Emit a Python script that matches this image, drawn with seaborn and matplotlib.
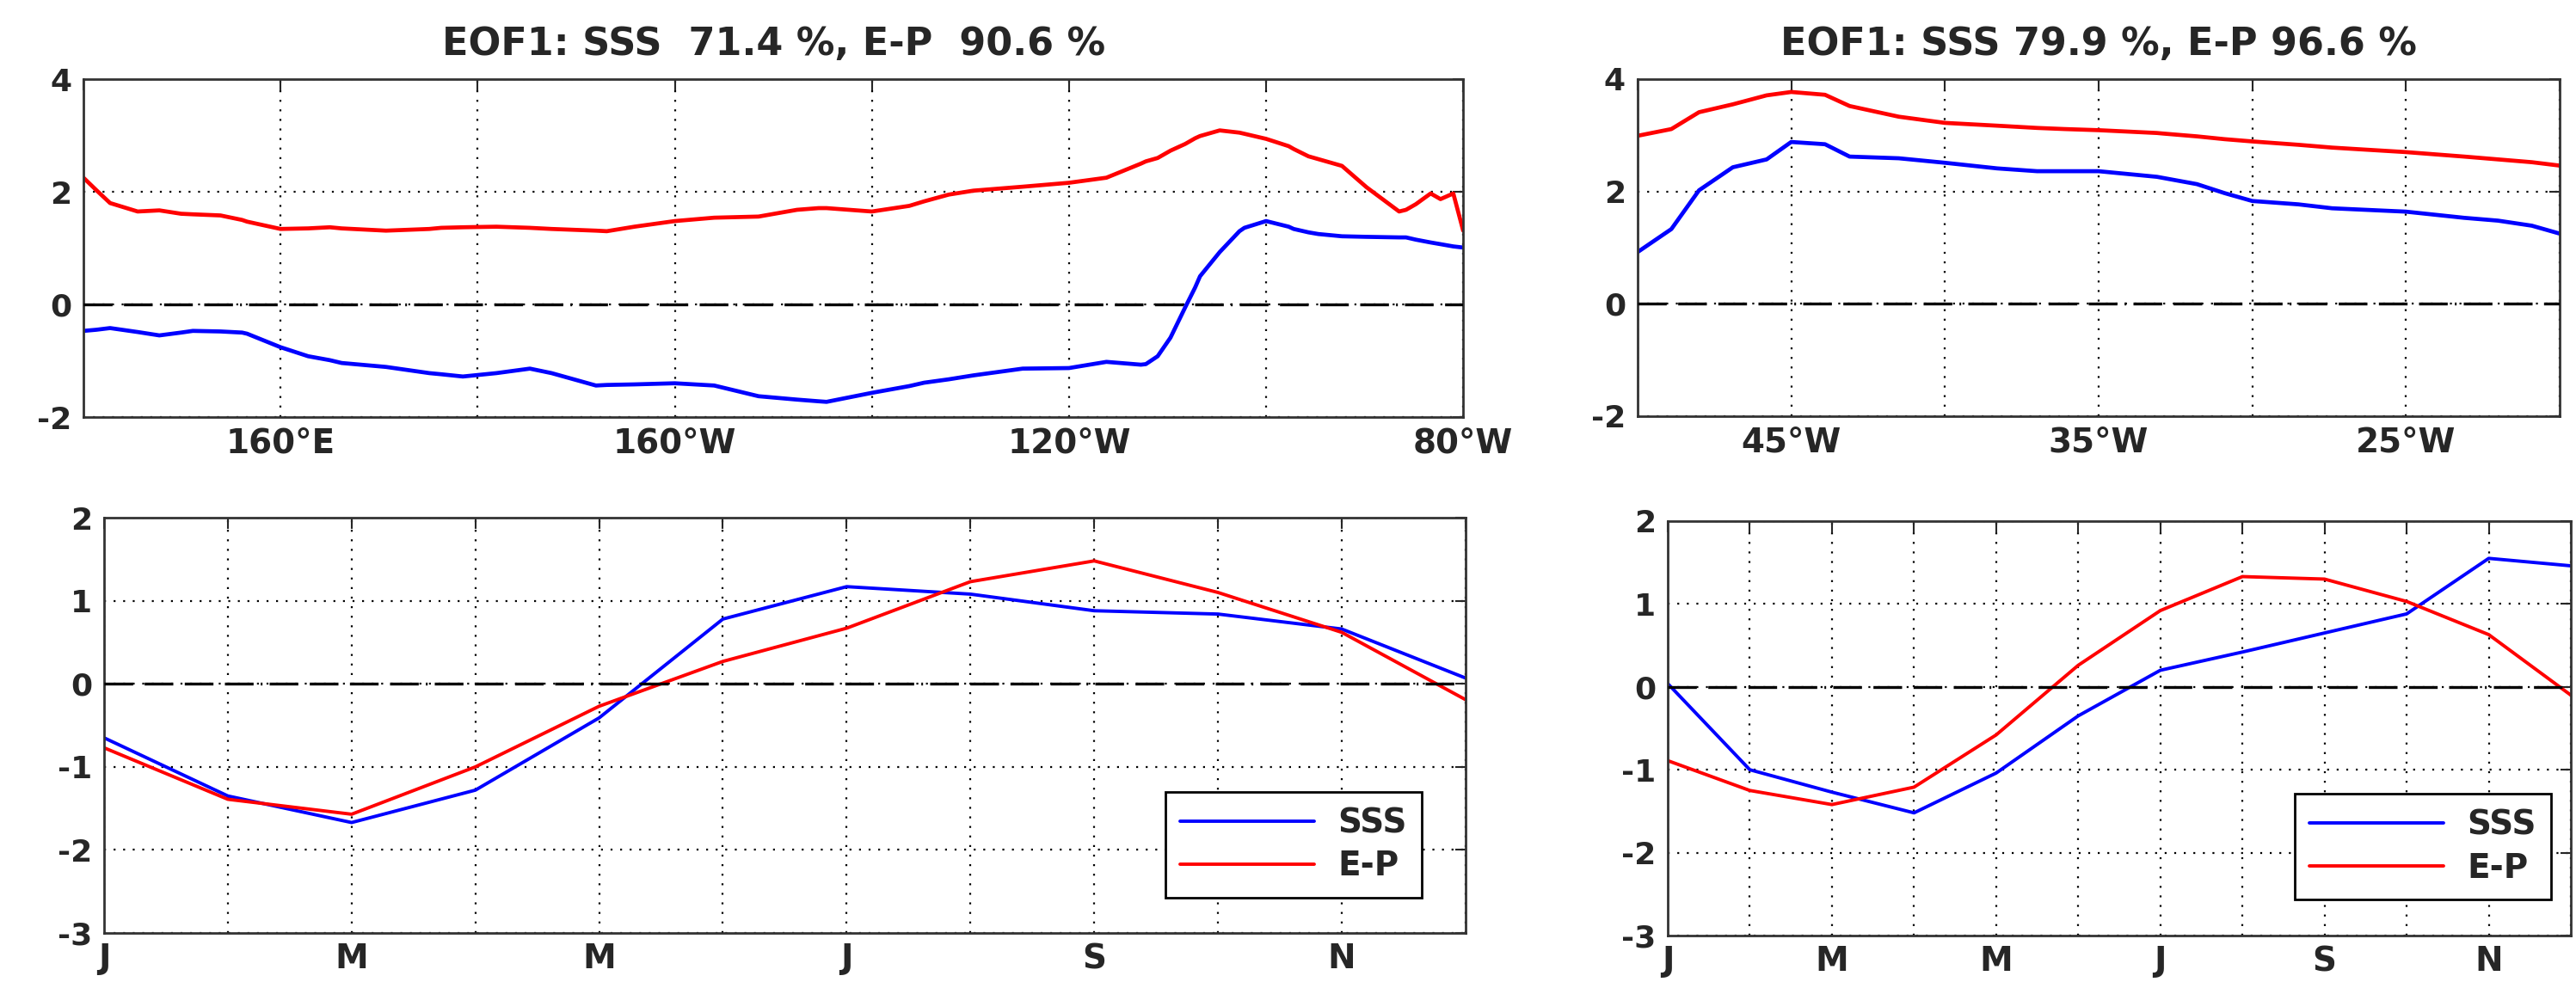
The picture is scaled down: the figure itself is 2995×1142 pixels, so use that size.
import numpy as np
import pandas as pd
import seaborn as sns
import matplotlib
matplotlib.use("Agg")
import matplotlib.pyplot as plt

# ---- data ----
# top-left: Pacific, longitude in 0-360 east
lon_pac = [140, 141.3, 142.7, 145.5, 147.7, 149.9, 151.1, 153.9, 156.1, 156.6, 160, 162.8, 165,
           166.2, 170.7, 175.1, 176.3, 178.5, 181.9, 185.3, 187.5, 192, 193.1, 195.9, 200, 204,
           208.5, 212.4, 214.6, 215.4, 220, 223.8, 225.3, 227.8, 230.3, 235.3, 240, 243.8,
           247.3, 247.8, 249, 250.3, 251.8, 252.8, 253.3, 255.3, 257.3, 257.8, 260, 262.3,
           262.8, 264.3, 265.3, 267.7, 270.2, 273.5, 274.2, 275.2, 276.7, 277.7, 279, 280]
sss_pac = [-0.47, -0.45, -0.42, -0.49, -0.55, -0.50, -0.47, -0.48, -0.50, -0.52, -0.76, -0.92, -0.99,
           -1.04, -1.11, -1.22, -1.24, -1.28, -1.22, -1.14, -1.22, -1.44, -1.43, -1.42, -1.40, -1.44,
           -1.63, -1.69, -1.72, -1.73, -1.57, -1.45, -1.39, -1.33, -1.26, -1.14, -1.13, -1.02,
           -1.07, -1.06, -0.92, -0.59, -0.05, 0.30, 0.50, 0.93, 1.30, 1.36, 1.48, 1.38,
           1.34, 1.28, 1.25, 1.21, 1.20, 1.19, 1.19, 1.15, 1.10, 1.07, 1.03, 1.01]
ep_pac = [2.25, 2.03, 1.80, 1.65, 1.67, 1.61, 1.60, 1.58, 1.50, 1.47, 1.34, 1.35, 1.37,
          1.35, 1.31, 1.34, 1.36, 1.37, 1.38, 1.36, 1.34, 1.31, 1.30, 1.38, 1.48, 1.54,
          1.56, 1.68, 1.71, 1.71, 1.65, 1.75, 1.83, 1.95, 2.02, 2.09, 2.16, 2.25,
          2.50, 2.54, 2.60, 2.73, 2.85, 2.95, 2.99, 3.09, 3.05, 3.03, 2.94, 2.81,
          2.76, 2.63, 2.58, 2.46, 2.08, 1.65, 1.68, 1.78, 1.97, 1.87, 1.97, 1.31]

# top-right: Atlantic, longitude in degrees east (negative = west)
lon_atl = [-50, -48.9, -48.0, -46.9, -45.8, -45, -43.9, -43.1, -41.5, -40, -38.3, -37, -36.1,
           -35, -33.1, -32.9, -31.8, -30.9, -30, -28.5, -27.4, -25, -23.1, -22, -20.9, -20]
sss_atl = [0.92, 1.33, 2.02, 2.43, 2.57, 2.88, 2.84, 2.62, 2.59, 2.51, 2.41, 2.36, 2.36,
           2.36, 2.26, 2.24, 2.13, 1.97, 1.83, 1.77, 1.70, 1.64, 1.53, 1.48, 1.39, 1.25]
ep_atl = [2.99, 3.11, 3.41, 3.55, 3.71, 3.77, 3.72, 3.52, 3.33, 3.22, 3.17, 3.13, 3.11,
          3.09, 3.04, 3.03, 2.98, 2.93, 2.89, 2.83, 2.78, 2.70, 2.62, 2.57, 2.52, 2.46]

# bottom: monthly principal components
months = list(range(1, 13))
month_labels = ['J', '', 'M', '', 'M', '', 'J', '', 'S', '', 'N', '']
sss_pc_pac = [-0.65, -1.35, -1.67, -1.28, -0.41, 0.78, 1.17, 1.08, 0.88, 0.84, 0.66, 0.07]
ep_pc_pac = [-0.77, -1.39, -1.57, -1.00, -0.27, 0.27, 0.67, 1.23, 1.48, 1.10, 0.62, -0.19]
sss_pc_atl = [0.04, -1.00, -1.27, -1.52, -1.04, -0.35, 0.20, 0.42, 0.65, 0.88, 1.55, 1.46]
ep_pc_atl = [-0.89, -1.25, -1.42, -1.21, -0.58, 0.26, 0.92, 1.33, 1.30, 1.03, 0.63, -0.10]

titles = ['EOF1: SSS  71.4 %, E-P  90.6 %', 'EOF1: SSS 79.9 %, E-P 96.6 %']

pac_ticks = [140, 160, 180, 200, 220, 240, 260, 280]
pac_labels = ['', '160°E', '', '160°W', '', '120°W', '', '80°W']
atl_ticks = [-50, -45, -40, -35, -30, -25, -20]
atl_labels = ['', '45°W', '', '35°W', '', '25°W', '']

series_names = ['SSS', 'E-P']
palette = {'SSS': '#0000ff', 'E-P': '#ff0000'}

sns.set_style("white")
plt.rcParams['font.family'] = ['DejaVu Sans']
plt.rcParams['font.weight'] = 'bold'

zero_dash = (0, (10, 4, 10, 4, 10, 4, 10, 2.5, 0.6, 2.5))


def long_df(x, a, b):
    return pd.concat([pd.DataFrame({'x': x, 'y': a, 'var': series_names[0]}),
                      pd.DataFrame({'x': x, 'y': b, 'var': series_names[1]})],
                     ignore_index=True)


def style_axes(ax, ylim, yticks, xlim, xticks, xlabels):
    ax.set_xlim(xlim)
    ax.set_ylim(ylim)
    ax.set_xticks(xticks)
    ax.set_xticklabels(xlabels)
    ax.set_yticks(yticks)
    ax.set_yticklabels([str(t) for t in yticks])
    ax.grid(True, color='k', linestyle=(0, (1, 4)), linewidth=1.6)
    ax.axhline(0, color='k', linestyle=zero_dash, linewidth=2.4, zorder=3)
    ax.tick_params(direction='in', top=True, right=True, length=9, width=1.5)
    ax.tick_params(axis='y', labelsize=26, pad=10)
    ax.tick_params(axis='x', labelsize=28, pad=8)
    for s in ax.spines.values():
        s.set_color('#333333')
        s.set_linewidth(2)
    ax.set_xlabel('')
    ax.set_ylabel('')
    for lab in ax.get_xticklabels() + ax.get_yticklabels():
        lab.set_fontweight('bold')


fig = plt.figure(figsize=(29.95, 11.42), dpi=100)
ax_tl = fig.add_axes([0.0324, 0.5753, 0.5356, 0.3441])
ax_tr = fig.add_axes([0.6357, 0.5762, 0.3579, 0.3433])
ax_bl = fig.add_axes([0.0404, 0.0499, 0.5285, 0.4229])
ax_br = fig.add_axes([0.6474, 0.0473, 0.3506, 0.4221])

# spatial patterns
sns.lineplot(data=long_df(lon_pac, sss_pac, ep_pac), x='x', y='y', hue='var',
             palette=palette, linewidth=3.4, ax=ax_tl, legend=False, sort=False)
style_axes(ax_tl, (-2, 4), [-2, 0, 2, 4], (140, 280), pac_ticks, pac_labels)
ax_tl.set_title(titles[0], fontsize=32, fontweight='bold', pad=20)

sns.lineplot(data=long_df(lon_atl, sss_atl, ep_atl), x='x', y='y', hue='var',
             palette=palette, linewidth=3.4, ax=ax_tr, legend=False, sort=False)
style_axes(ax_tr, (-2, 4), [-2, 0, 2, 4], (-50, -20), atl_ticks, atl_labels)
ax_tr.set_title(titles[1], fontsize=32, fontweight='bold', pad=20)

# time series
anchors = {0: (0.968, 0.085), 1: (0.978, 0.087)}
for i, (ax, a, b) in enumerate([(ax_bl, sss_pc_pac, ep_pc_pac), (ax_br, sss_pc_atl, ep_pc_atl)]):
    sns.lineplot(data=long_df(months, a, b), x='x', y='y', hue='var',
                 palette=palette, linewidth=2.8, ax=ax, sort=False)
    style_axes(ax, (-3, 2), [-3, -2, -1, 0, 1, 2], (1, 12), months, month_labels)
    leg = ax.legend(loc='lower right', bbox_to_anchor=anchors[i], borderaxespad=0,
                    fontsize=28, frameon=True, fancybox=False, framealpha=1,
                    edgecolor='k', handlelength=4.0, handletextpad=0.7,
                    borderpad=0.45, labelspacing=0.3)
    leg.get_frame().set_linewidth(2)
    for t in leg.get_texts():
        t.set_fontweight('bold')

fig.savefig('out.png', dpi=100)
